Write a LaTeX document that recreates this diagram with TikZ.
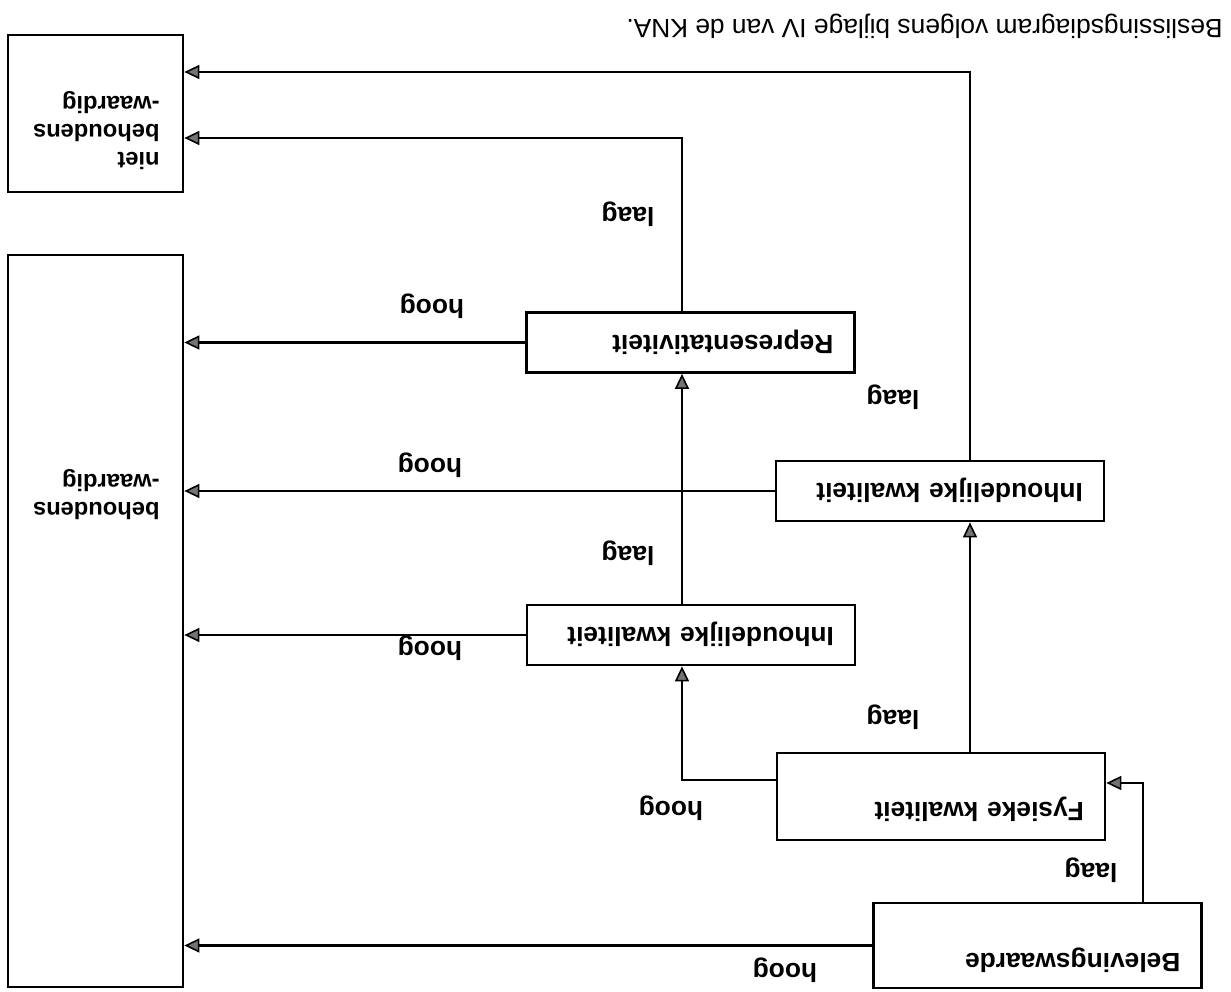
\documentclass[tikz,border=0pt]{standalone}
\usepackage{fontspec}
\setmainfont{Liberation Sans}
\usetikzlibrary{arrows.meta}
\newcommand{\lettergrootte}{\fontsize{15}{16.5}\selectfont}

\begin{document}
\begin{tikzpicture}[x=0.02cm, y=0.02cm, rotate=180, transform shape,
  blok/.style={rectangle, draw, line width=1.6pt, text width=5.72cm, inner xsep=0.42cm, inner ysep=0pt,
    align=left, font=\lettergrootte\bfseries, text height=0.74cm, text depth=0.46cm},
  hoogblok/.style={blok, text depth=1.0cm},
  vak/.style={rectangle, draw, line width=1.6pt, minimum width=3.5cm, inner sep=0pt},
  tekst/.style={inner sep=0pt, align=left, font=\fontsize{13.5}{16}\selectfont\bfseries},
  keuze/.style={inner sep=0pt, font=\lettergrootte\bfseries},
  pijl/.style={line width=1.6pt, -{Triangle[length=0.3cm, width=0.28cm, line width=0.9pt, fill=black!55]}}]
\useasboundingbox (0,0) rectangle (1231,-991);
\path (193.5,-45.5) node(bw) [blok, text height=0.68cm, text depth=1.02cm] {Belevingswaarde}
(290,-194.5) node(fk) [hoogblok] {Fysieke kwaliteit}
(540,-356) node(ik1) [blok] {Inhoudelijke kwaliteit}
(291,-500) node(ik2) [blok] {Inhoudelijke kwaliteit}
(540.5,-648.5) node(rp) [blok] {Representativiteit}
(1135.5,-370) node(bh) [vak, minimum height=14.64cm] {}
(1135.5,-877.5) node(nb) [vak, minimum height=3.14cm] {};
\node(bhtekst) [tekst, anchor=north west] at (1071,-471) {behoudens\\-waardig};
\node(nbtekst) [tekst, anchor=north west] at (1071,-821) {niet\\behoudens\\-waardig};
\node(titel) [anchor=base west, inner sep=0pt, font=\lettergrootte] at (8,-971) {Beslissingsdiagram volgens bijlage IV van de KNA.};
% knikpunten
\coordinate (k1) at (88,-208);
\coordinate (k2) at (549,-211);
\coordinate (k3) at (261,-919);
\coordinate (k4) at (549,-853);
\draw[pijl] (bw.east) -- (bw.east -| bh.west);
\draw[pijl] (k1 |- bw.south) |- (k1 -| fk.west);
\draw[pijl] (k2 -| fk.east) -| (k2 |- ik1.north);
\draw[pijl] (fk.south -| k3) -- (ik2.north -| k3);
\draw[pijl] (ik1.east) -- (ik1.east -| bh.west);
\draw[pijl] (ik1.south -| k2) -- (rp.north -| k2);
\draw[pijl] (ik2.east) -- (ik2.east -| bh.west);
\draw[pijl] (ik2.south -| k3) |- (k3 -| nb.west);
\draw[pijl] (rp.east) -- (rp.east -| bh.west);
\draw[pijl] (rp.south -| k4) |- (k4 -| nb.west);
\node[keuze] (h1) at (446,-21) {hoog};
\node[keuze] (l1) at (140,-121) {laag};
\node[keuze] (h2) at (560,-183) {hoog};
\node[keuze] (l2) at (338,-274) {laag};
\node[keuze] (h3) at (801,-343) {hoog};
\node[keuze] (l3) at (603,-438) {laag};
\node[keuze] (h4) at (801,-526) {hoog};
\node[keuze] (l4) at (338,-594) {laag};
\node[keuze] (h5) at (799,-685) {hoog};
\node[keuze] (l5) at (603,-777) {laag};
\end{tikzpicture}
\end{document}
